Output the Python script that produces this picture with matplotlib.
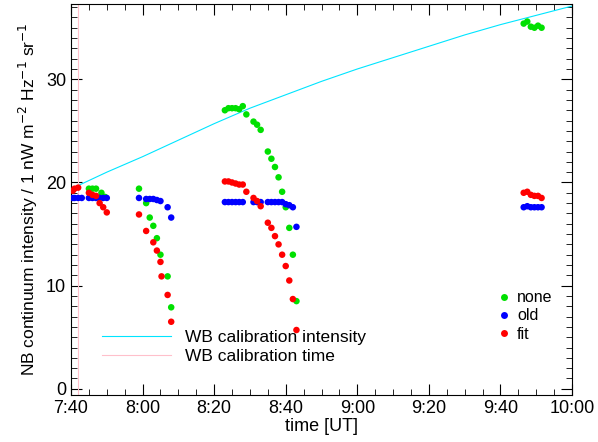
import matplotlib
matplotlib.use("Agg")
import matplotlib.pyplot as plt
from matplotlib.ticker import MultipleLocator, FuncFormatter
from matplotlib.lines import Line2D

plt.rcParams['font.family'] = ['Liberation Sans', 'DejaVu Sans']

# times in minutes after 7:00
t_none = [45,46,47,48.5,49.5, 59,61,62,63,64,65,67,68,
          83,84,85,86,87,88,89,91,92,93,95,96,97,98,99,100,101,102,103,
          166.5,167.5,168.5,169.5,170.5,171.5]
v_none = [19.4,19.4,19.4,19.0,18.6, 19.4,18.0,16.6,15.8,14.6,13.0,10.9,7.9,
          27.0,27.2,27.2,27.2,27.1,27.4,26.6,25.9,25.6,25.1,23.0,22.3,21.5,20.5,19.1,17.6,15.6,13.0,8.5,
          35.4,35.6,35.1,35.0,35.2,35.0]
t_old = [40.5,41,42,43,45,46,47,48,49,50, 59,61,62,63,64,65,67,68,
         83,84,85,86,87,88,91,92,93,95,96,97,98,99,100,101,102,103,
         166.5,167.5,168.5,169.5,170.5,171.5]
v_old = [18.5,18.5,18.5,18.5,18.5,18.5,18.5,18.5,18.5,18.5, 18.5,18.4,18.4,18.4,18.3,18.2,17.6,16.6,
         18.1,18.1,18.1,18.1,18.1,18.1,18.1,18.1,18.1,18.1,18.1,18.1,18.1,18.1,17.9,17.8,17.6,15.7,
         17.6,17.7,17.6,17.6,17.6,17.6]
t_fit = [40.5,41,42, 45,46,47,48,49,50, 59,61,63,64,65,65.3,67,68,
         83,84,85,86,87,88,89,91,92,93,95,96,97,98,99,100,101,102,103,
         166.5,167.5,168.5,169.5,170.5,171.5]
v_fit = [19.2,19.4,19.5, 19.0,18.8,18.7,18.0,17.6,17.1, 16.9,15.3,14.2,13.4,12.3,10.9,9.1,6.5,
         20.1,20.1,20.0,19.9,19.8,19.8,19.1,18.5,18.2,17.7,16.1,15.6,14.8,14.0,13.0,11.9,10.5,8.7,5.7,
         19.0,19.1,18.8,18.7,18.7,18.5]
t_wb = [42,50,60,70,80,90,100,110,120,130,140,150,160,170,180]
v_wb = [19.7,21.0,22.5,24.1,25.7,27.2,28.5,29.8,31.0,32.1,33.2,34.3,35.3,36.2,37.1]
t_cal = 42

fig = plt.figure(figsize=(5.98,4.42), dpi=100)
ax = fig.add_axes([71/598, 1-395/442, (572-71)/598, (395-4)/442])
ax.plot(t_wb, v_wb, color='#00e5ff', lw=0.8)
ax.axvline(t_cal, color='#ffc0cb', lw=0.8)
ms = 22
ax.scatter(t_none, v_none, s=ms, color='#00e000', edgecolors='none', zorder=3)
ax.scatter(t_old, v_old, s=ms, color='#0000ff', edgecolors='none', zorder=3)
ax.scatter(t_fit, v_fit, s=ms, color='#ff0000', edgecolors='none', zorder=3)
ax.set_xlim(40,180)
ax.set_ylim(-0.6,37.3)
ax.xaxis.set_major_locator(MultipleLocator(20))
ax.xaxis.set_minor_locator(MultipleLocator(5))
ax.yaxis.set_major_locator(MultipleLocator(10))
ax.yaxis.set_minor_locator(MultipleLocator(1))
ax.xaxis.set_major_formatter(FuncFormatter(lambda v,p: f"{int(7+v//60)}:{int(v%60):02d}"))
ax.tick_params(which='both', direction='in', top=True, right=True, labelsize=13)
ax.tick_params(which='major', length=8)
ax.tick_params(which='minor', length=4)
ax.set_xlabel('time [UT]', fontsize=13, labelpad=1)
ax.set_ylabel(r'NB continuum intensity / 1 nW m$^{-2}$ Hz$^{-1}$ sr$^{-1}$', fontsize=12.5)

h1 = [Line2D([],[],color='#00e5ff',lw=0.8), Line2D([],[],color='#ffc0cb',lw=0.8)]
l1 = ax.legend(h1, ['WB calibration intensity','WB calibration time'], loc='lower left',
               bbox_to_anchor=(0.03,0.04), frameon=False, fontsize=12.5, handlelength=4, labelspacing=0.2)
ax.add_artist(l1)
h2 = [Line2D([],[],ls='none',marker='o',ms=5,color=c,mec='none') for c in ['#00e000','#0000ff','#ff0000']]
ax.legend(h2, ['none','old','fit'], loc='lower right', bbox_to_anchor=(0.99,0.1), frameon=False,
          fontsize=11.5, handletextpad=0.3, labelspacing=0.2, handlelength=1)
fig.savefig('out.png', dpi=100)
